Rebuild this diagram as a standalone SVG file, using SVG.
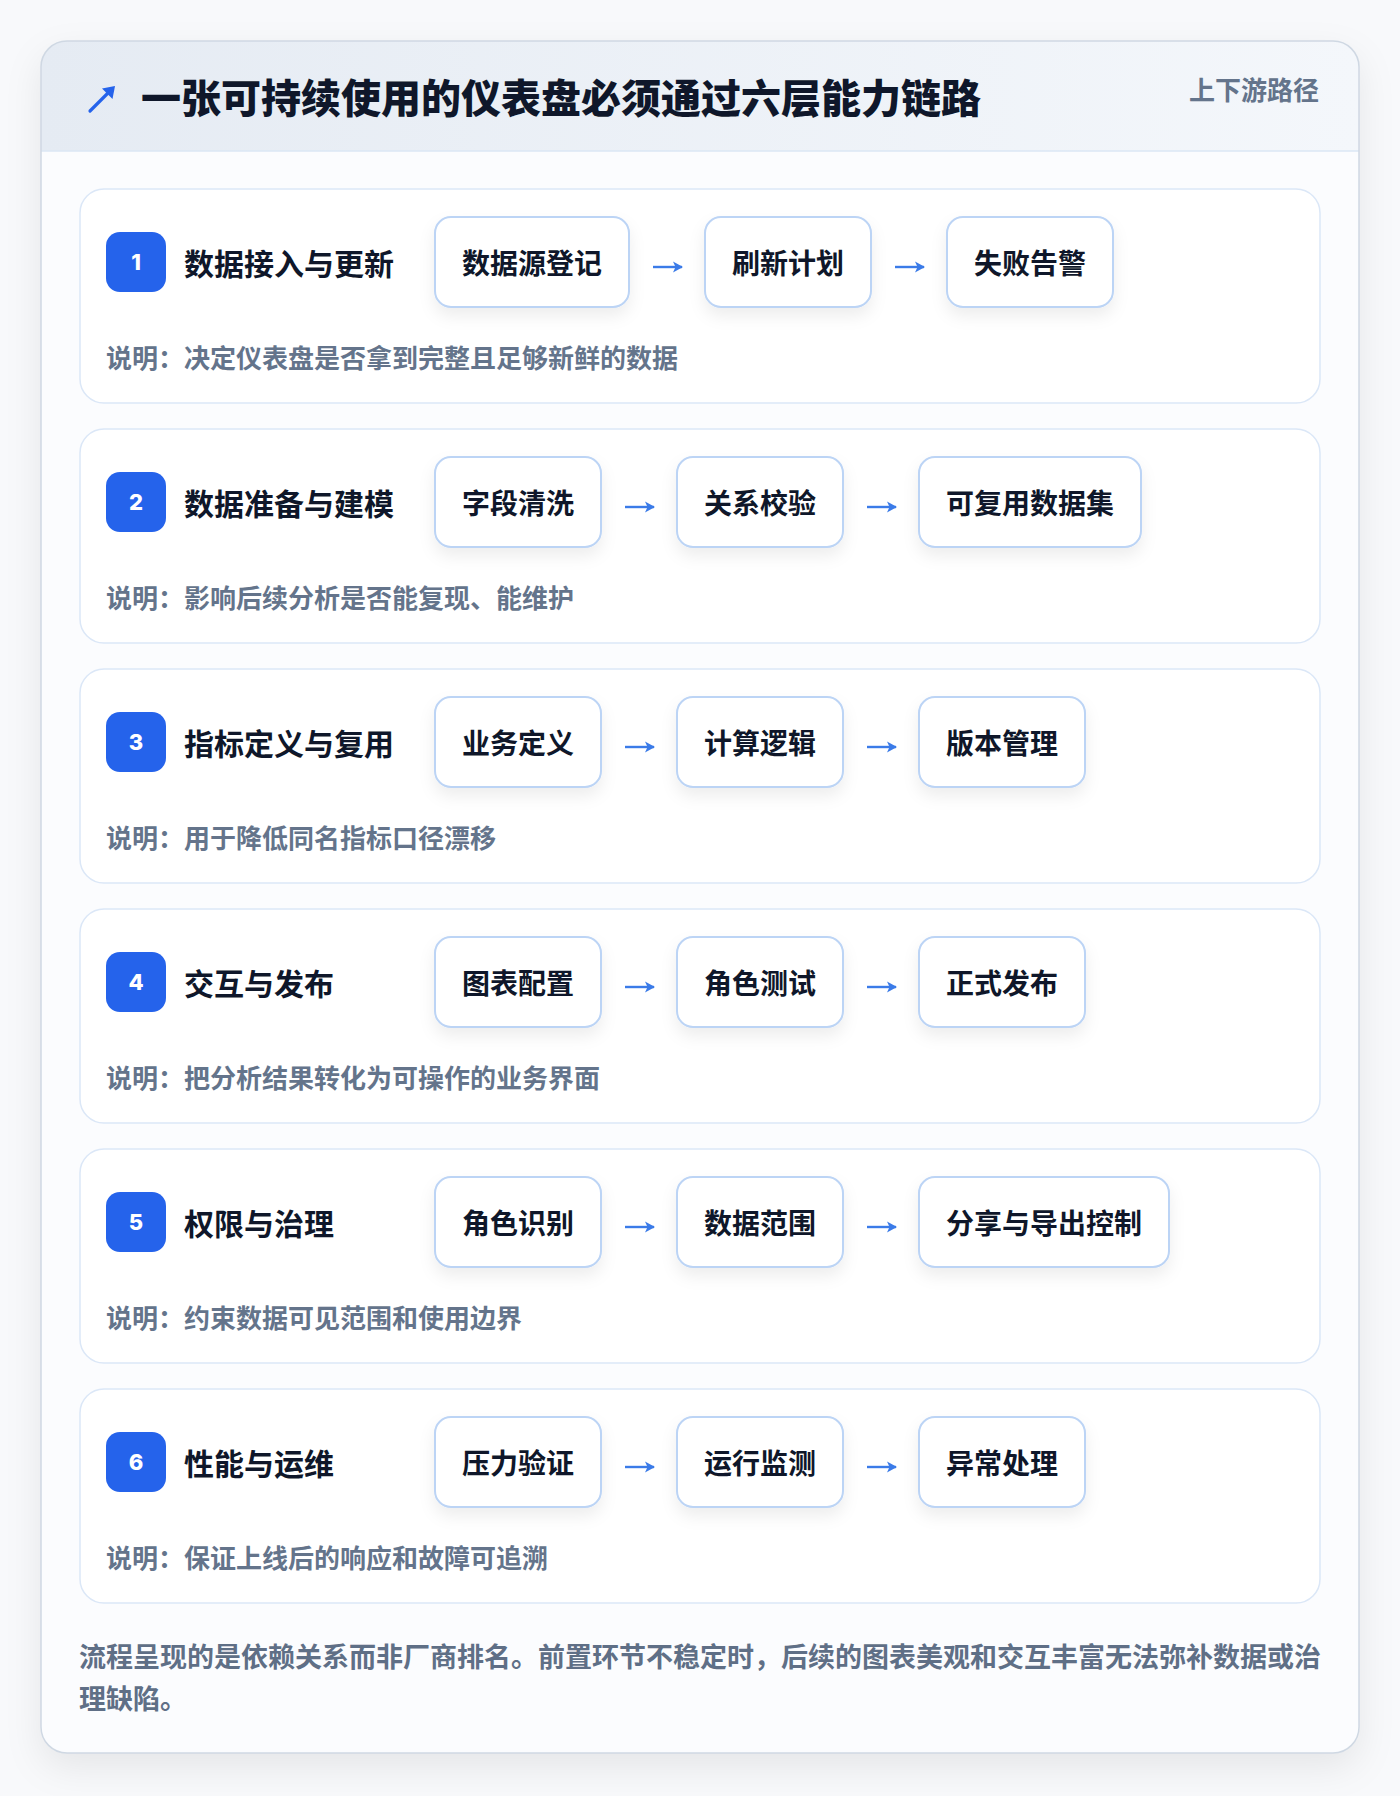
<svg xmlns="http://www.w3.org/2000/svg" width="1400" height="1796" viewBox="0 0 1400 1796">
<defs>
<style>
.cjk{font-family:"Noto Sans CJK SC","Noto Sans",sans-serif;}
.title{font-size:40px;font-weight:900;fill:#0f172a;}
.sub{font-size:26px;font-weight:700;fill:#64748b;}
.lbl{font-size:30px;font-weight:700;fill:#0f172a;}
.step{font-size:28px;font-weight:700;fill:#0f172a;}
.desc{font-size:26px;font-weight:700;fill:#64748b;}
.foot{font-size:27px;font-weight:700;fill:#5f6f86;}
.num{font-family:Inter,"Noto Sans",sans-serif;font-size:22px;font-weight:800;fill:#ffffff;}
.layer{fill:#ffffff;stroke:#dbe7f7;stroke-width:1.5;}
.box{fill:#ffffff;stroke:#bcd4f5;stroke-width:2;}
.badge{fill:#2563eb;}
.conn{stroke:#3b7be8;stroke-width:2.4;fill:none;}
</style>
<linearGradient id="hdr" x1="0" y1="0" x2="1" y2="0">
<stop offset="0" stop-color="#e5ebf3"/>
<stop offset="1" stop-color="#f4f7fb"/>
</linearGradient>
<clipPath id="cardClip"><rect x="41" y="41" width="1318" height="1712" rx="26"/></clipPath>
<filter id="cardShadow" x="-10%" y="-10%" width="120%" height="120%">
<feDropShadow dx="0" dy="14" stdDeviation="18" flood-color="#0f172a" flood-opacity="0.08"/>
</filter>
<filter id="boxShadow" x="-30%" y="-30%" width="160%" height="180%">
<feDropShadow dx="0" dy="8" stdDeviation="8" flood-color="#0f172a" flood-opacity="0.07"/>
</filter>
<marker id="ah" viewBox="0 0 10 12" refX="9" refY="6" markerWidth="10" markerHeight="12" markerUnits="userSpaceOnUse" orient="auto">
<path d="M0,0.5 L10,6 L0,11.5 L2.5,6 z" fill="#3b7be8"/>
</marker>
</defs>
<rect x="0" y="0" width="1400" height="1796" fill="#f8f9fb"/>
<g id="card">
<rect x="41" y="41" width="1318" height="1712" rx="26" fill="#fbfcfe" filter="url(#cardShadow)"/>
<g clip-path="url(#cardClip)">
<rect x="41" y="41" width="1318" height="110" fill="url(#hdr)"/>
<line x1="41" y1="151" x2="1359" y2="151" stroke="#dbe7f5" stroke-width="1.5"/>
</g>
<rect x="41" y="41" width="1318" height="1712" rx="26" fill="none" stroke="#cfd8e3" stroke-width="1.5"/>
</g>
<g id="header">
<g id="title-icon">
<line x1="90" y1="111" x2="110" y2="91" stroke="#2563eb" stroke-width="3.2" stroke-linecap="round"/>
<path d="M115,86 L112.5,99 L102,88.5 z" fill="#2563eb"/>
</g>
<text class="cjk title" x="141" y="96" dominant-baseline="central">一张可持续使用的仪表盘必须通过六层能力链路</text>
<text class="cjk sub" x="1319" y="88" text-anchor="end" dominant-baseline="central">上下游路径</text>
</g>

<g id="layer-1">
<rect class="layer" x="80" y="189" width="1240" height="214" rx="24"/>
<rect class="badge" x="106" y="232" width="60" height="60" rx="14"/>
<text class="num" x="136" y="270" text-anchor="middle">1</text>
<text class="cjk lbl" x="184" y="262" dominant-baseline="central">数据接入与更新</text>
<g id="n1-1"><rect class="box" x="435" y="217" width="194" height="90" rx="16" filter="url(#boxShadow)"/><text class="cjk step" x="532" y="262" text-anchor="middle" dominant-baseline="central">数据源登记</text></g>
<g id="n1-2"><rect class="box" x="705" y="217" width="166" height="90" rx="16" filter="url(#boxShadow)"/><text class="cjk step" x="788" y="262" text-anchor="middle" dominant-baseline="central">刷新计划</text></g>
<g id="n1-3"><rect class="box" x="947" y="217" width="166" height="90" rx="16" filter="url(#boxShadow)"/><text class="cjk step" x="1030" y="262" text-anchor="middle" dominant-baseline="central">失败告警</text></g>
<text class="cjk desc" x="106" y="356" dominant-baseline="central">说明：决定仪表盘是否拿到完整且足够新鲜的数据</text>
</g>

<g id="layer-2">
<rect class="layer" x="80" y="429" width="1240" height="214" rx="24"/>
<rect class="badge" x="106" y="472" width="60" height="60" rx="14"/>
<text class="num" x="136" y="510" text-anchor="middle">2</text>
<text class="cjk lbl" x="184" y="502" dominant-baseline="central">数据准备与建模</text>
<g id="n2-1"><rect class="box" x="435" y="457" width="166" height="90" rx="16" filter="url(#boxShadow)"/><text class="cjk step" x="518" y="502" text-anchor="middle" dominant-baseline="central">字段清洗</text></g>
<g id="n2-2"><rect class="box" x="677" y="457" width="166" height="90" rx="16" filter="url(#boxShadow)"/><text class="cjk step" x="760" y="502" text-anchor="middle" dominant-baseline="central">关系校验</text></g>
<g id="n2-3"><rect class="box" x="919" y="457" width="222" height="90" rx="16" filter="url(#boxShadow)"/><text class="cjk step" x="1030" y="502" text-anchor="middle" dominant-baseline="central">可复用数据集</text></g>
<text class="cjk desc" x="106" y="596" dominant-baseline="central">说明：影响后续分析是否能复现、能维护</text>
</g>

<g id="layer-3">
<rect class="layer" x="80" y="669" width="1240" height="214" rx="24"/>
<rect class="badge" x="106" y="712" width="60" height="60" rx="14"/>
<text class="num" x="136" y="750" text-anchor="middle">3</text>
<text class="cjk lbl" x="184" y="742" dominant-baseline="central">指标定义与复用</text>
<g id="n3-1"><rect class="box" x="435" y="697" width="166" height="90" rx="16" filter="url(#boxShadow)"/><text class="cjk step" x="518" y="742" text-anchor="middle" dominant-baseline="central">业务定义</text></g>
<g id="n3-2"><rect class="box" x="677" y="697" width="166" height="90" rx="16" filter="url(#boxShadow)"/><text class="cjk step" x="760" y="742" text-anchor="middle" dominant-baseline="central">计算逻辑</text></g>
<g id="n3-3"><rect class="box" x="919" y="697" width="166" height="90" rx="16" filter="url(#boxShadow)"/><text class="cjk step" x="1002" y="742" text-anchor="middle" dominant-baseline="central">版本管理</text></g>
<text class="cjk desc" x="106" y="836" dominant-baseline="central">说明：用于降低同名指标口径漂移</text>
</g>

<g id="layer-4">
<rect class="layer" x="80" y="909" width="1240" height="214" rx="24"/>
<rect class="badge" x="106" y="952" width="60" height="60" rx="14"/>
<text class="num" x="136" y="990" text-anchor="middle">4</text>
<text class="cjk lbl" x="184" y="982" dominant-baseline="central">交互与发布</text>
<g id="n4-1"><rect class="box" x="435" y="937" width="166" height="90" rx="16" filter="url(#boxShadow)"/><text class="cjk step" x="518" y="982" text-anchor="middle" dominant-baseline="central">图表配置</text></g>
<g id="n4-2"><rect class="box" x="677" y="937" width="166" height="90" rx="16" filter="url(#boxShadow)"/><text class="cjk step" x="760" y="982" text-anchor="middle" dominant-baseline="central">角色测试</text></g>
<g id="n4-3"><rect class="box" x="919" y="937" width="166" height="90" rx="16" filter="url(#boxShadow)"/><text class="cjk step" x="1002" y="982" text-anchor="middle" dominant-baseline="central">正式发布</text></g>
<text class="cjk desc" x="106" y="1076" dominant-baseline="central">说明：把分析结果转化为可操作的业务界面</text>
</g>

<g id="layer-5">
<rect class="layer" x="80" y="1149" width="1240" height="214" rx="24"/>
<rect class="badge" x="106" y="1192" width="60" height="60" rx="14"/>
<text class="num" x="136" y="1230" text-anchor="middle">5</text>
<text class="cjk lbl" x="184" y="1222" dominant-baseline="central">权限与治理</text>
<g id="n5-1"><rect class="box" x="435" y="1177" width="166" height="90" rx="16" filter="url(#boxShadow)"/><text class="cjk step" x="518" y="1222" text-anchor="middle" dominant-baseline="central">角色识别</text></g>
<g id="n5-2"><rect class="box" x="677" y="1177" width="166" height="90" rx="16" filter="url(#boxShadow)"/><text class="cjk step" x="760" y="1222" text-anchor="middle" dominant-baseline="central">数据范围</text></g>
<g id="n5-3"><rect class="box" x="919" y="1177" width="250" height="90" rx="16" filter="url(#boxShadow)"/><text class="cjk step" x="1044" y="1222" text-anchor="middle" dominant-baseline="central">分享与导出控制</text></g>
<text class="cjk desc" x="106" y="1316" dominant-baseline="central">说明：约束数据可见范围和使用边界</text>
</g>

<g id="layer-6">
<rect class="layer" x="80" y="1389" width="1240" height="214" rx="24"/>
<rect class="badge" x="106" y="1432" width="60" height="60" rx="14"/>
<text class="num" x="136" y="1470" text-anchor="middle">6</text>
<text class="cjk lbl" x="184" y="1462" dominant-baseline="central">性能与运维</text>
<g id="n6-1"><rect class="box" x="435" y="1417" width="166" height="90" rx="16" filter="url(#boxShadow)"/><text class="cjk step" x="518" y="1462" text-anchor="middle" dominant-baseline="central">压力验证</text></g>
<g id="n6-2"><rect class="box" x="677" y="1417" width="166" height="90" rx="16" filter="url(#boxShadow)"/><text class="cjk step" x="760" y="1462" text-anchor="middle" dominant-baseline="central">运行监测</text></g>
<g id="n6-3"><rect class="box" x="919" y="1417" width="166" height="90" rx="16" filter="url(#boxShadow)"/><text class="cjk step" x="1002" y="1462" text-anchor="middle" dominant-baseline="central">异常处理</text></g>
<text class="cjk desc" x="106" y="1556" dominant-baseline="central">说明：保证上线后的响应和故障可追溯</text>
</g>

<g id="connectors">
<path class="conn" d="M653,267 H682" marker-end="url(#ah)"/>
<path class="conn" d="M895,267 H924" marker-end="url(#ah)"/>
<path class="conn" d="M625,507 H654" marker-end="url(#ah)"/>
<path class="conn" d="M867,507 H896" marker-end="url(#ah)"/>
<path class="conn" d="M625,747 H654" marker-end="url(#ah)"/>
<path class="conn" d="M867,747 H896" marker-end="url(#ah)"/>
<path class="conn" d="M625,987 H654" marker-end="url(#ah)"/>
<path class="conn" d="M867,987 H896" marker-end="url(#ah)"/>
<path class="conn" d="M625,1227 H654" marker-end="url(#ah)"/>
<path class="conn" d="M867,1227 H896" marker-end="url(#ah)"/>
<path class="conn" d="M625,1467 H654" marker-end="url(#ah)"/>
<path class="conn" d="M867,1467 H896" marker-end="url(#ah)"/>
</g>

<g id="footer">
<text class="cjk foot" x="79" y="1655" dominant-baseline="central">流程呈现的是依赖关系而非厂商排名。前置环节不稳定时，后续的图表美观和交互丰富无法弥补数据或治</text>
<text class="cjk foot" x="79" y="1697" dominant-baseline="central">理缺陷。</text>
</g>
</svg>
